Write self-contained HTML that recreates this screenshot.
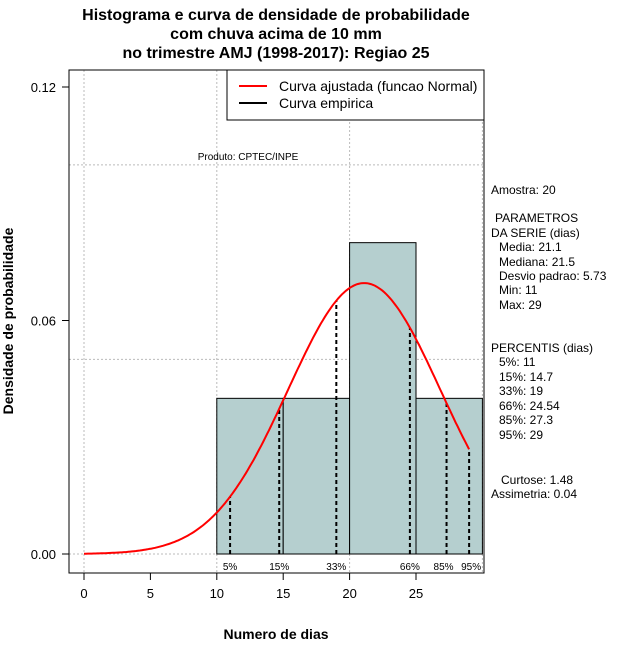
<!DOCTYPE html>
<html><head><meta charset="utf-8"><style>
body{margin:0;background:#fff;}
svg{display:block;font-family:"Liberation Sans",sans-serif;}
</style></head><body>
<svg id="c" width="640" height="660" xmlns="http://www.w3.org/2000/svg">
<g font-weight="bold" font-size="16" text-anchor="middle">
<text x="276" y="20">Histograma e curva de densidade de probabilidade</text>
<text x="276" y="39">com chuva acima de 10 mm</text>
<text x="276" y="58">no trimestre AMJ (1998-2017): Regiao 25</text>
</g>
<g id="grid"></g>
<g id="bars"></g>
<g id="pct"></g>
<path id="curve" fill="none" stroke="#ff0000" stroke-width="2"/>
<rect x="69" y="70" width="415" height="503" fill="none" stroke="#000"/>
<g id="axes" font-size="13"></g>
<text x="248" y="160" font-size="10" text-anchor="middle">Produto: CPTEC/INPE</text>
<g>
<rect x="227" y="70" width="257" height="50" fill="#fff" stroke="#000"/>
<line x1="239" y1="86" x2="267" y2="86" stroke="#ff0000" stroke-width="2"/>
<text x="279" y="91" font-size="14">Curva ajustada (funcao Normal)</text>
<line x1="239" y1="103" x2="267" y2="103" stroke="#000" stroke-width="2"/>
<text x="279" y="108" font-size="14">Curva empirica</text>
</g>
<text x="276" y="639" font-size="14" font-weight="bold" text-anchor="middle">Numero de dias</text>
<text transform="translate(13,321) rotate(-90)" font-size="14" font-weight="bold" text-anchor="middle">Densidade de probabilidade</text>
<g font-size="12">
<text x="491" y="194">Amostra: 20</text>
<text x="495" y="222">PARAMETROS</text>
<text x="491" y="237">DA SERIE (dias)</text>
<text x="499" y="251">Media: 21.1</text>
<text x="499" y="266">Mediana: 21.5</text>
<text x="499" y="280">Desvio padrao: 5.73</text>
<text x="499" y="294">Min: 11</text>
<text x="499" y="309">Max: 29</text>
<text x="491" y="352">PERCENTIS (dias)</text>
<text x="499" y="366">5%: 11</text>
<text x="499" y="381">15%: 14.7</text>
<text x="499" y="395">33%: 19</text>
<text x="499" y="410">66%: 24.54</text>
<text x="499" y="424">85%: 27.3</text>
<text x="499" y="439">95%: 29</text>
<text x="501" y="484">Curtose: 1.48</text>
<text x="491" y="498">Assimetria: 0.04</text>
</g>
</svg>
<script>
const binEdges=[10,15,20,25,30];
const binDensity=[0.04,0.04,0.08,0.04];
const pctLabels=["5%","15%","33%","66%","85%","95%"];
const pctValues=[11,14.7,19,24.54,27.3,29];
const xTicks=[0,5,10,15,20,25];
const yTicks=[0,0.06,0.12];
const mean=21.1, sd=5.73, curveMin=0, curveMax=29;
const NS="http://www.w3.org/2000/svg";
const X=v=>84+v*13.28, Y=v=>554-v*3891.7;
function mk(t,a,p){const e=document.createElementNS(NS,t);for(const k in a)e.setAttribute(k,a[k]);p.appendChild(e);return e;}
const dens=x=>Math.exp(-0.5*((x-mean)/sd)**2)/(sd*Math.sqrt(2*Math.PI));
const grid=document.getElementById('grid');
[0,10,20,30].forEach(v=>{const l=mk('line',{x1:X(v),x2:X(v),y1:70,y2:573,stroke:'#bbb','stroke-dasharray':'2,2'},grid);

});
[0,0.05,0.1].forEach(v=>{const l=mk('line',{x1:69,x2:484,y1:Y(v),y2:Y(v),stroke:'#bbb','stroke-dasharray':'2,2'},grid);

});
const bars=document.getElementById('bars');
binDensity.forEach((d,i)=>{const r=mk('rect',{x:X(binEdges[i]),y:Y(d),width:X(binEdges[i+1])-X(binEdges[i]),height:Y(0)-Y(d),fill:'#b5cfcf',stroke:'#000'},bars);

});
const pct=document.getElementById('pct');
pctValues.forEach((v,i)=>{const l=mk('line',{x1:X(v),x2:X(v),y1:Y(0),y2:Y(dens(v)),stroke:'#000','stroke-width':2,'stroke-dasharray':'4,3'},pct);


const t=mk('text',{x:X(v)+(i==4?-3:i==5?2:0),y:570,'font-size':10,'text-anchor':'middle'},pct);t.textContent=pctLabels[i];

});
let d='';for(let i=0;i<=200;i++){const x=curveMin+(curveMax-curveMin)*i/200;d+=(i?'L':'M')+X(x).toFixed(1)+','+Y(dens(x)).toFixed(1);}
document.getElementById('curve').setAttribute('d',d);
const ax=document.getElementById('axes');
mk('line',{x1:X(0),x2:X(25),y1:573,y2:573,stroke:'#000'},ax);
xTicks.forEach(v=>{mk('line',{x1:X(v),x2:X(v),y1:573,y2:580,stroke:'#000'},ax);
const t=mk('text',{x:X(v),y:598,'text-anchor':'middle'},ax);t.textContent=v;

});
mk('line',{x1:69,x2:69,y1:Y(0),y2:Y(0.12),stroke:'#000'},ax);
yTicks.forEach(v=>{mk('line',{x1:62,x2:69,y1:Y(v),y2:Y(v),stroke:'#000'},ax);
const t=mk('text',{x:56,y:Y(v)+5,'text-anchor':'end'},ax);t.textContent=v.toFixed(2);

});
</script>
</body></html>
